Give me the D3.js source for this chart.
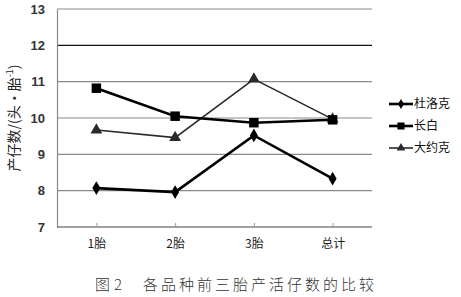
<!DOCTYPE html>
<html>
<head>
<meta charset="utf-8">
<script src="https://cdn.jsdelivr.net/npm/d3@7"></script>
<style>
  body { margin: 0; background: #fff; }
  text { font-family: "Liberation Sans", "Noto Sans CJK SC", sans-serif; }
</style>
</head>
<body>
<div id="chart"></div>
<script>
// categories and series values
const categories = ['1胎', '2胎', '3胎', '总计'];
const duroc = [8.07, 7.96, 9.52, 8.33];     // 杜洛克
const landrace = [10.82, 10.05, 9.87, 9.95]; // 长白
const yorkshire = [9.67, 9.46, 11.07, 9.97]; // 大约克
const seriesNames = ['杜洛克', '长白', '大约克'];
const yTicks = [7, 8, 9, 10, 11, 12, 13];

const width = 461, height = 297;
const margin = {left: 57, right: 89, top: 9, bottom: 70};

const svg = d3.select('#chart').append('svg')
    .attr('width', width)
    .attr('height', height);

const x = d3.scalePoint()
    .domain(categories)
    .range([margin.left, width - margin.right])
    .padding(0.5);

const y = d3.scaleLinear()
    .domain([7, 13])
    .range([height - margin.bottom, margin.top]);

// gridlines (the 12 line is drawn darker in the original)
svg.append('g').selectAll('line')
    .data(yTicks.slice(1))
    .enter().append('line')
        .attr('x1', margin.left)
        .attr('x2', width - margin.right)
        .attr('y1', d => y(d))
        .attr('y2', d => y(d))
        .style('stroke', d => d === 12 ? '#111' : '#8a8a8a')
        .style('stroke-width', 1.2);

// left axis
const yAxis = svg.append('g')
    .attr('transform', `translate(${margin.left},0)`)
    .call(d3.axisLeft(y).tickValues(yTicks).tickFormat(d3.format('d')).tickSize(0).tickPadding(12));
yAxis.select('.domain').style('stroke', '#8a8a8a').style('stroke-width', 1.2);
yAxis.selectAll('text')
    .style('font-size', '13px')
    .style('font-weight', 'bold')
    .style('fill', '#333');

// bottom axis, small ticks pointing up
const xAxis = svg.append('g')
    .attr('transform', `translate(0,${y(7)})`)
    .call(d3.axisBottom(x).tickSize(-4).tickPadding(12));
xAxis.select('.domain')
    .attr('d', `M${margin.left},0H${width - margin.right}`)
    .style('stroke', '#444')
    .style('stroke-width', 1.2);
xAxis.selectAll('.tick line').style('stroke', '#999');
xAxis.selectAll('text')
    .style('font-size', '12px')
    .style('font-family', '"Noto Sans CJK SC", sans-serif')
    .style('fill', '#222');

// series lines and markers
const series = [
    {name: seriesNames[0], values: duroc, width: 2.6, colour: '#000', symbol: d3.symbolDiamond, size: 55},
    {name: seriesNames[1], values: landrace, width: 2.6, colour: '#000', symbol: d3.symbolSquare, size: 90},
    {name: seriesNames[2], values: yorkshire, width: 1.6, colour: '#2a2a2a', symbol: d3.symbolTriangle, size: 60}
];

const line = d3.line()
    .x((d, i) => x(categories[i]))
    .y(d => y(d));

// draw in reverse so the diamond series sits on top like the original
const drawOrder = [series[2], series[1], series[0]];
drawOrder.forEach(s => {
    svg.append('path')
        .datum(s.values)
        .attr('d', line)
        .style('fill', 'none')
        .style('stroke', s.colour)
        .style('stroke-width', s.width);

    svg.append('g').selectAll('path')
        .data(s.values)
        .enter().append('path')
            .attr('d', d3.symbol().type(s.symbol).size(s.size))
            .attr('transform', (d, i) => `translate(${x(categories[i])},${y(d)})`)
            .style('fill', s.colour);
});

// legend
const legendY = [104, 126, 148];
const legend = svg.append('g').selectAll('g')
    .data(series)
    .enter().append('g')
        .attr('transform', (d, i) => `translate(389,${legendY[i]})`);
legend.append('line')
    .attr('x1', 0).attr('x2', 24)
    .style('stroke', d => d.colour)
    .style('stroke-width', d => d.width);
legend.append('path')
    .attr('d', d => d3.symbol().type(d.symbol).size(d.size * 0.55)())
    .attr('transform', 'translate(12,0)')
    .style('fill', d => d.colour);
legend.append('text')
    .attr('x', 25)
    .attr('dy', '0.35em')
    .text(d => d.name)
    .style('font-size', '12px')
    .style('font-family', '"Noto Sans CJK SC", sans-serif')
    .style('fill', '#111');

// y axis title
const yTitle = svg.append('text')
    .attr('transform', `translate(19,118) rotate(-90)`)
    .attr('text-anchor', 'middle')
    .style('font-size', '14px')
    .style('font-family', '"Noto Sans CJK SC", sans-serif')
    .style('fill', '#222');
yTitle.append('tspan').text('产仔数/(头·胎');
yTitle.append('tspan').attr('dy', -6).style('font-size', '9px').text('-1');
yTitle.append('tspan').attr('dy', 6).text(')');

// caption
svg.append('text')
    .attr('x', 95)
    .attr('y', 290)
    .style('font-size', '15px')
    .style('letter-spacing', '4px')
    .style('font-family', '"Noto Sans CJK SC", sans-serif')
    .style('font-weight', 300)
    .style('fill', '#333')
    .text('图2');
svg.append('text')
    .attr('x', 143)
    .attr('y', 290)
    .style('font-size', '15px')
    .style('letter-spacing', '3px')
    .style('font-family', '"Noto Sans CJK SC", sans-serif')
    .style('font-weight', 300)
    .style('fill', '#333')
    .text('各品种前三胎产活仔数的比较');
</script>
</body>
</html>
